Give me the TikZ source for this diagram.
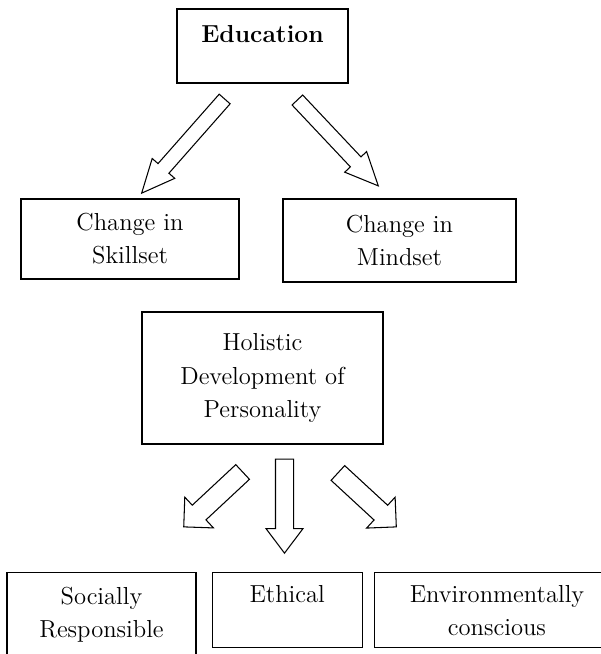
\documentclass[tikz,border=0pt]{standalone}
\usepackage{tikz}
\usetikzlibrary{positioning,shapes.arrows}

\begin{document}
\begin{tikzpicture}[
  caja/.style={draw, line width=0.7pt, align=center, inner sep=0pt,
    font=\fontsize{14}{18.8}\selectfont},
  flecha/.style n args={4}{single arrow, draw, line width=0.6pt, anchor=tail,
    minimum height=#1, inner xsep=0pt, inner ysep=#2,
    single arrow head extend=#3, single arrow tip angle=#4},
]
  \useasboundingbox (0,0) rectangle (12,-13.08);
  % ---- Arriba ----
  \node[caja, minimum width=3.42cm, text height=0.68cm, text depth=0.8cm]
    (edu) at (5.25,-0.92) {\textbf{Education}};
  \node[caja, minimum width=4.36cm, minimum height=1.6cm] (hab) at (2.6,-4.78)
    {Change in\\Skillset};
  \node[caja, minimum width=4.66cm, minimum height=1.66cm] (men) at (7.99,-4.81)
    {Change in\\Mindset};
  % ---- Centro ----
  \node[caja, minimum width=4.82cm, minimum height=2.64cm] (hol) at (5.25,-7.56)
    {Holistic\\Development of\\Personality};
  % ---- Abajo ----
  \node[caja, anchor=north, minimum width=3.78cm, minimum height=2.24cm]
    (soc) at (2.03,-11.44) {Socially\\Responsible\\\mbox{}};
  \node[caja, anchor=north west, minimum width=3.0cm, minimum height=1.5cm]
    (eti) at ([xshift=0.3cm]soc.north east) {Ethical\\\mbox{}};
  \node[caja, anchor=north west, minimum width=4.9cm, minimum height=1.5cm]
    (amb) at ([xshift=0.22cm]eti.north east) {Environmentally\\conscious};
  % ---- Flechas ----
  \node[flecha={2.51cm}{0.135cm}{0.155cm}{49}, rotate=228.6] (f1)
    at ([xshift=-0.75cm,yshift=-0.30cm]edu.south) {};
  \node[flecha={2.36cm}{0.135cm}{0.155cm}{49}, rotate=313.3] (f2)
    at ([xshift=0.69cm,yshift=-0.32cm]edu.south) {};
  \node[flecha={1.61cm}{0.19cm}{0.22cm}{90}, rotate=223] (f3)
    at ([xshift=-0.39cm,yshift=-0.54cm]hol.south) {};
  \node[flecha={1.88cm}{0.17cm}{0.19cm}{74}, rotate=-90] (f4)
    at ([xshift=0.44cm,yshift=-0.28cm]hol.south) {};
  \node[flecha={1.59cm}{0.19cm}{0.22cm}{90}, rotate=317.3] (f5)
    at ([xshift=1.5cm,yshift=-0.56cm]hol.south) {};
\end{tikzpicture}
\end{document}
